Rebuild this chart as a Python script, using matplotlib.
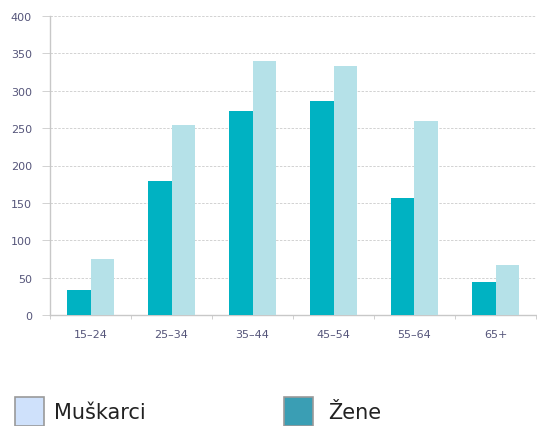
import matplotlib
matplotlib.use("Agg")
import matplotlib.pyplot as plt
from matplotlib.patches import Rectangle
import numpy as np

categories = ["15–24", "25–34", "35–44", "45–54", "55–64", "65+"]
zene = [33, 179, 273, 286, 157, 44]
muskarci = [75, 254, 340, 333, 259, 67]
yticks = [0, 50, 100, 150, 200, 250, 300, 350, 400]

dark = "#00b2c2"
light = "#b5e1e8"
label_col = "#55557a"
W, H = 537, 427

fig = plt.figure(figsize=(W / 100, H / 100), dpi=100)
ax = fig.add_axes([50 / W, (H - 316) / H, 486 / W, 299 / H])

x = np.arange(len(categories))
bw = 0.29
ax.bar(x - bw / 2, zene, bw, color=dark, zorder=3)
ax.bar(x + bw / 2, muskarci, bw, color=light, zorder=3)

ax.set_xlim(-0.5, len(categories) - 0.5)
ax.set_ylim(0, 400)
ax.set_yticks(yticks)
ax.set_xticks(x)
ax.set_xticklabels(categories)
ax.set_xticks(np.arange(len(categories) + 1) - 0.5, minor=True)

ax.grid(axis="y", color="#d2d2d2", linestyle=(0, (2.5, 1.5)), linewidth=0.7, zorder=0)
for s in ["top", "right"]:
    ax.spines[s].set_visible(False)
for s in ["left", "bottom"]:
    ax.spines[s].set_color("#c8c8c8")
    ax.spines[s].set_linewidth(1.0)

ax.tick_params(axis="y", length=6, width=0.7, color="#d2d2d2", labelsize=8,
               labelcolor=label_col, pad=7)
ax.tick_params(axis="x", which="major", length=0, labelsize=8,
               labelcolor=label_col, pad=10)
ax.tick_params(axis="x", which="minor", length=3, color="#c8c8c8")

# legend drawn below the chart
def px(xp, yp):
    return xp / W, 1 - yp / H

for (x0, col, txt, tx) in [(15, "#cfe1fb", "Muškarci", 54),
                            (284, "#3a9eb4", "Žene", 328)]:
    fx, fy = px(x0, 427)
    fig.patches.append(Rectangle((fx, fy), 29 / W, 29 / H, transform=fig.transFigure,
                                 facecolor=col, edgecolor="#9a9a9a", linewidth=1.2))
    tx_, ty_ = px(tx, 413)
    fig.text(tx_, ty_, txt, fontsize=15, color="#222222", va="center", ha="left")

fig.savefig("out.png", dpi=100)
